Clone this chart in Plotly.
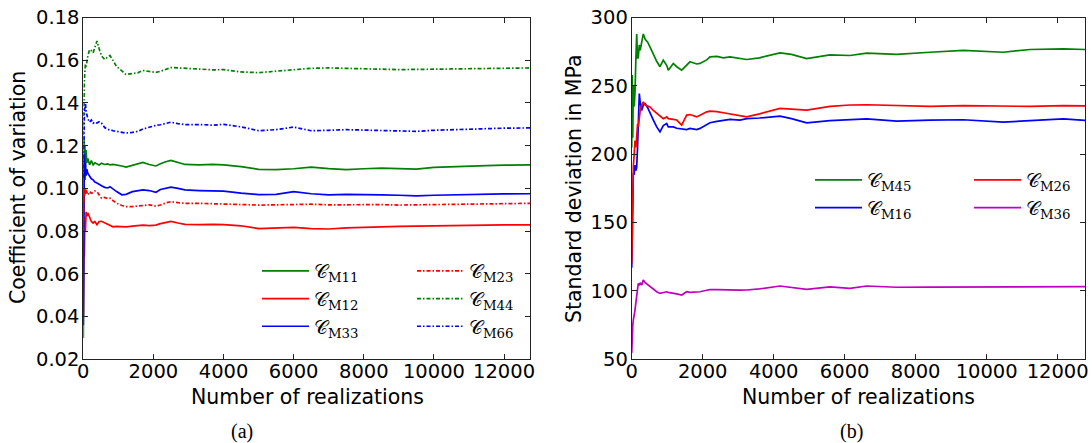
import plotly.graph_objects as go

# ---------------- data: left panel (coefficient of variation) ----------------
x_left = [1, 10, 20, 30, 45, 60, 80, 100, 130, 180, 230, 280, 330, 390, 450, 520, 610, 700, 760, 850,
          950, 1100, 1220, 1400, 1550, 1700, 1880, 2070, 2200, 2350, 2500, 2700, 2900, 3300, 3700, 4000,
          4500, 5000, 5500, 6000, 6500, 7000, 7500, 8000, 8500, 9000, 9500, 10000, 10500, 11000, 11500,
          12000, 12740]

cm11 = [0.030, 0.085, 0.124, 0.105, 0.120, 0.110, 0.118, 0.112, 0.114, 0.111, 0.113, 0.111, 0.112, 0.1115,
        0.111, 0.1118, 0.1112, 0.1115, 0.111, 0.1112, 0.111, 0.1105, 0.110, 0.1108, 0.1115, 0.1122, 0.1112,
        0.1105, 0.1115, 0.1125, 0.1131, 0.1122, 0.1112, 0.111, 0.1112, 0.111, 0.1102, 0.1089, 0.1088, 0.1092,
        0.110, 0.1093, 0.1088, 0.1092, 0.1095, 0.1093, 0.109, 0.1098, 0.1102, 0.1105, 0.1107, 0.1109, 0.111]

cm12 = [0.040, 0.060, 0.075, 0.068, 0.086, 0.080, 0.089, 0.087, 0.0885, 0.086, 0.0845, 0.0838, 0.0845,
        0.083, 0.0845, 0.0846, 0.0838, 0.0832, 0.0826, 0.082, 0.0822, 0.0821, 0.082, 0.0823, 0.0825, 0.0828,
        0.0826, 0.0828, 0.0835, 0.0842, 0.0846, 0.0838, 0.0832, 0.083, 0.0832, 0.083, 0.0825, 0.0812, 0.0815,
        0.0818, 0.0812, 0.081, 0.0815, 0.0818, 0.0822, 0.0822, 0.0823, 0.0825, 0.0826, 0.0827, 0.0828,
        0.0829, 0.0829]

cm33 = [0.036, 0.080, 0.100, 0.116, 0.104, 0.112, 0.106, 0.109, 0.107, 0.1055, 0.1045, 0.104, 0.103,
        0.1025, 0.1017, 0.1012, 0.1005, 0.1002, 0.1008, 0.0995, 0.0985, 0.097, 0.0972, 0.0985, 0.099, 0.0993,
        0.099, 0.0982, 0.0995, 0.1002, 0.1006, 0.100, 0.0993, 0.099, 0.0988, 0.0987, 0.0978, 0.0971, 0.0972,
        0.0985, 0.0975, 0.097, 0.0972, 0.0972, 0.097, 0.0968, 0.0965, 0.0968, 0.097, 0.097, 0.0972, 0.0974,
        0.0975]

cm23 = [0.080, 0.092, 0.098, 0.095, 0.100, 0.097, 0.0993, 0.0985, 0.097, 0.0985, 0.0977, 0.098, 0.0988,
        0.0985, 0.097, 0.0954, 0.0958, 0.0952, 0.0954, 0.0942, 0.093, 0.092, 0.0915, 0.0915, 0.0918, 0.0922,
        0.0923, 0.0917, 0.0922, 0.0932, 0.0938, 0.0933, 0.093, 0.093, 0.0928, 0.0927, 0.0925, 0.0922, 0.0923,
        0.0925, 0.0926, 0.0923, 0.0924, 0.0925, 0.0924, 0.0922, 0.0923, 0.0925, 0.0926, 0.0927, 0.0928,
        0.0929, 0.093]

cm44 = [0.125, 0.140, 0.148, 0.150, 0.155, 0.158, 0.157, 0.160, 0.162, 0.165, 0.1645, 0.1635, 0.166, 0.169,
        0.1655, 0.162, 0.1604, 0.1615, 0.1622, 0.1598, 0.157, 0.155, 0.1533, 0.1538, 0.1541, 0.1552, 0.1549,
        0.1543, 0.1548, 0.1558, 0.1566, 0.1564, 0.1562, 0.1557, 0.1555, 0.1556, 0.1545, 0.1542, 0.1549,
        0.1556, 0.1562, 0.1564, 0.1562, 0.156, 0.1557, 0.1556, 0.1557, 0.1558, 0.156, 0.1561, 0.1562, 0.1563,
        0.1564]

cm66 = [0.105, 0.118, 0.128, 0.135, 0.138, 0.140, 0.136, 0.1337, 0.1325, 0.131, 0.132, 0.1305, 0.131,
        0.1306, 0.1312, 0.1305, 0.1285, 0.1275, 0.1275, 0.127, 0.1267, 0.1262, 0.1259, 0.1262, 0.1267,
        0.1278, 0.1288, 0.1295, 0.1298, 0.1304, 0.131, 0.1303, 0.1299, 0.1299, 0.1296, 0.130, 0.1288, 0.127,
        0.1275, 0.1287, 0.127, 0.1272, 0.1275, 0.1273, 0.1271, 0.1268, 0.1267, 0.1272, 0.1275, 0.1278,
        0.128, 0.1282, 0.1283]

# ---------------- data: right panel (standard deviation, MPa) ----------------
x_right = [1, 15, 30, 46, 70, 93, 120, 141, 165, 186, 214, 240, 282, 327, 380, 450, 515, 610, 704, 797,
           890, 986, 1031, 1172, 1268, 1408, 1549, 1642, 1831, 1924, 2113, 2206, 2400, 2580, 2769, 3050,
           3239, 3600, 4177, 4500, 4930, 5586, 6149, 6620, 7465, 8403, 9341, 10468, 11220, 12158, 12770]

cm45 = [205, 258, 212, 250, 235, 245, 272, 288, 270, 271, 280, 276, 282, 288, 284, 282, 278.5, 273, 268,
        264, 268.8, 265, 261.5, 266.4, 264, 261.5, 265, 267.6, 266, 266.4, 269, 271.2, 271.5, 270.5, 271.2,
        270, 269.3, 270.5, 274.1, 273, 270, 272.6, 272.2, 274, 273, 274.6, 275.9, 274.6, 276.6, 277, 276.6]

cm26 = [120, 160, 180, 190.8, 200, 210, 205, 215, 222, 220, 228, 232, 236, 238.3, 236, 235, 234.6, 232,
        229.8, 228, 226, 227.3, 226, 225.5, 225, 221.3, 228.6, 229, 227.3, 228.5, 231, 231.5, 231.2, 230.3,
        229.5, 228.6, 227.3, 229.5, 233.5, 233, 232.2, 235, 236, 236.2, 235.5, 235, 235.5, 235.2, 235,
        235.5, 235.3]

cm16 = [117, 150, 175, 186, 185, 192, 188, 190.8, 205, 220, 244.4, 238, 232, 236, 237, 234, 230, 225, 220,
        216.4, 221, 222.5, 220, 220, 219, 218.5, 218, 218.9, 218, 218.9, 222, 223, 224, 225, 225.5, 225,
        226, 226.5, 227.8, 226, 223, 224.5, 225.5, 225.9, 224.2, 225, 225.2, 223.5, 224.5, 225.9, 224.7]

cm36 = [54.6, 70, 75, 78.7, 82, 86, 92, 98.2, 103, 105.5, 104, 106, 104.3, 108, 106, 104.5, 103, 101, 99.4,
        98.2, 99, 99.4, 99, 98.5, 97.8, 97, 99.4, 99, 99.4, 99.4, 100.5, 101, 101, 100.8, 100.7, 100.6,
        100.7, 101.5, 103.6, 102.5, 101.2, 103, 101.9, 103.6, 102.7, 102.8, 102.9, 102.7, 102.9, 103, 103.1]

left_ticks = [0.02, 0.04, 0.06, 0.08, 0.10, 0.12, 0.14, 0.16, 0.18]
right_ticks = [50, 100, 150, 200, 250, 300]
x_ticks = [0, 2000, 4000, 6000, 8000, 10000, 12000]

GREEN, RED, BLUE, MAGENTA = "#008000", "#ff0000", "#0000ff", "#bf00bf"
DASHDOT = "4px,2px,1.5px,2px"
FONT = "DejaVu Sans"

def lab(sub):
    return "\U0001D49E<sub>M" + sub + "</sub>"

fig = go.Figure()

left_series = [
    (cm11, "11", GREEN, "solid", "legend"),
    (cm12, "12", RED, "solid", "legend"),
    (cm33, "33", BLUE, "solid", "legend"),
    (cm23, "23", RED, DASHDOT, "legend2"),
    (cm44, "44", GREEN, DASHDOT, "legend2"),
    (cm66, "66", BLUE, DASHDOT, "legend2"),
]
for ys, sub, col, dash, lg in left_series:
    fig.add_trace(go.Scatter(x=x_left, y=ys, mode="lines", name=lab(sub), legend=lg,
                             legendgroup=sub,
                             line=dict(color=col, width=1.7, dash=dash), xaxis="x", yaxis="y"))

right_series = [
    (cm45, "45", GREEN, "legend3"),
    (cm16, "16", BLUE, "legend3"),
    (cm26, "26", RED, "legend4"),
    (cm36, "36", MAGENTA, "legend4"),
]
for ys, sub, col, lg in right_series:
    fig.add_trace(go.Scatter(x=x_right, y=ys, mode="lines", name=lab(sub), legend=lg,
                             legendgroup=sub,
                             line=dict(color=col, width=1.7), xaxis="x2", yaxis="y2"))

W, H = 1092, 443
def px(v):
    return v / W
def py(v):
    return 1 - v / H

axis_common = dict(showline=True, linecolor="#222", linewidth=1, mirror="ticks", ticks="inside",
                   ticklen=5, tickcolor="#222", showgrid=False, zeroline=False, automargin=False,
                   tickfont=dict(family=FONT, size=19.5, color="black"))
x_extra = dict(ticklabelstandoff=-6)
y_extra = dict(ticklabelstandoff=-1)

leg_common = dict(bgcolor="rgba(0,0,0,0)", font=dict(family="DejaVu Serif", size=19, color="black"),
                  itemwidth=47, tracegroupgap=5, xanchor="left", yanchor="top", traceorder="normal")

fig.update_layout(
    width=W, height=H, margin=dict(l=0, r=0, t=0, b=0, autoexpand=False),
    paper_bgcolor="white", plot_bgcolor="white", showlegend=True,
    xaxis=dict(domain=[px(83.3), px(530)], range=[0, 12740], tickvals=x_ticks, tickformat="d",
               anchor="y", **axis_common, **x_extra),
    yaxis=dict(domain=[py(359.3), py(17.5)], range=[0.02, 0.18], tickvals=left_ticks, tickformat=".2f",
               anchor="x", **axis_common, **y_extra),
    xaxis2=dict(domain=[px(631.7), px(1085)], range=[0, 12770], tickvals=x_ticks, tickformat="d",
                anchor="y2", **axis_common, **x_extra),
    yaxis2=dict(domain=[py(359.3), py(17.5)], range=[50, 300], tickvals=right_ticks, tickformat="d",
                anchor="x2", **axis_common, **y_extra),
    legend=dict(x=px(257), y=py(252), **leg_common),
    legend2=dict(x=px(412), y=py(252), **leg_common),
    legend3=dict(x=px(810), y=py(161), **leg_common),
    legend4=dict(x=px(969), y=py(161), **leg_common),
)

annos = [
    dict(text="Coefficient of variation", x=px(18), y=py(188), textangle=-90),
    dict(text="Number of realizations", x=px(307), y=py(397)),
    dict(text="Standard deviation in MPa", x=px(574), y=py(189), textangle=-90),
    dict(text="Number of realizations", x=px(858), y=py(397)),
]
for a in annos:
    fig.add_annotation(xref="paper", yref="paper", showarrow=False, xanchor="center", yanchor="middle",
                       font=dict(family=FONT, size=20.5, color="black"), **a)
for t, xc in [("(a)", 242), ("(b)", 851)]:
    fig.add_annotation(text=t, xref="paper", yref="paper", x=px(xc), y=py(431), showarrow=False,
                       xanchor="center", yanchor="middle",
                       font=dict(family="Liberation Serif", size=20, color="black"))

fig.write_html("out.html")
